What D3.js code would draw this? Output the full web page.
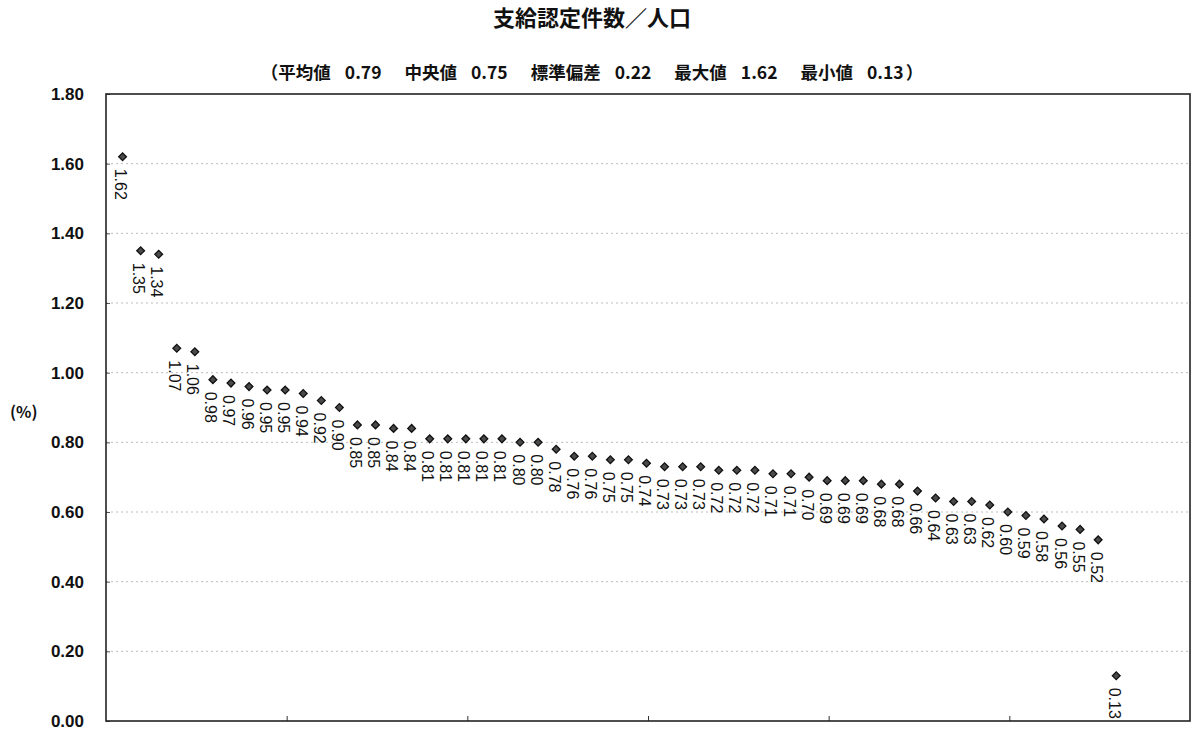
<!DOCTYPE html>
<html>
<head>
<meta charset="utf-8">
<script src="https://cdn.jsdelivr.net/npm/d3@7"></script>
<style>
  html, body { margin: 0; padding: 0; background: #fff; }
  svg { display: block; }
</style>
</head>
<body>
<svg id="chart" width="1193" height="733"></svg>
<script>
// 支給認定件数／人口 (%) — 自治体別、降順
const ratios = [
  1.62, 1.35, 1.34, 1.07, 1.06, 0.98, 0.97, 0.96, 0.95, 0.95,
  0.94, 0.92, 0.90, 0.85, 0.85, 0.84, 0.84, 0.81, 0.81, 0.81,
  0.81, 0.81, 0.80, 0.80, 0.78, 0.76, 0.76, 0.75, 0.75, 0.74,
  0.73, 0.73, 0.73, 0.72, 0.72, 0.72, 0.71, 0.71, 0.70, 0.69,
  0.69, 0.69, 0.68, 0.68, 0.66, 0.64, 0.63, 0.63, 0.62, 0.60,
  0.59, 0.58, 0.56, 0.55, 0.52, 0.13
];
const yTicks = [0, 0.2, 0.4, 0.6, 0.8, 1.0, 1.2, 1.4, 1.6, 1.8];
const xTicks = [10, 20, 30, 40, 50];
const titleText = "支給認定件数／人口";
const statLabels = ["平均値", "中央値", "標準偏差", "最大値", "最小値"];
const statValues = ["0.79", "0.75", "0.22", "1.62", "0.13"];
const unitText = "(%)";

const svg = d3.select("#chart");
const plot = { left: 106, right: 1190, top: 94, bottom: 721 };

const x = d3.scaleLinear().domain([0, 60]).range([plot.left, plot.right]);
const y = d3.scaleLinear().domain([0, 1.8]).range([plot.bottom, plot.top]);

// gridlines
svg.append("g")
  .selectAll("line")
  .data(yTicks.filter(t => t > 0 && t < 1.8))
  .join("line")
  .attr("x1", plot.left).attr("x2", plot.right)
  .attr("y1", d => y(d)).attr("y2", d => y(d))
  .attr("stroke", "#bdbdbd")
  .attr("stroke-width", 1)
  .attr("stroke-dasharray", "2,3");

// y axis
const yAxis = svg.append("g")
  .attr("transform", `translate(${plot.left},0)`)
  .call(d3.axisLeft(y).tickValues(yTicks).tickFormat(d3.format(".2f")).tickSize(-4).tickPadding(22));
yAxis.select(".domain").remove();
yAxis.selectAll(".tick line").attr("stroke", "#555");
yAxis.selectAll(".tick text")
  .attr("font-family", "'Liberation Sans', Arial, sans-serif")
  .attr("font-weight", "bold")
  .attr("font-size", 17)
  .attr("fill", "#111");

// x axis (tick marks only)
const xAxis = svg.append("g")
  .attr("transform", `translate(0,${plot.bottom})`)
  .call(d3.axisBottom(x).tickValues(xTicks).tickSize(-5).tickFormat(""));
xAxis.select(".domain").remove();
xAxis.selectAll(".tick line").attr("stroke", "#333");

// plot frame
svg.append("rect")
  .attr("x", plot.left).attr("y", plot.top)
  .attr("width", plot.right - plot.left)
  .attr("height", plot.bottom - plot.top)
  .attr("fill", "none")
  .attr("stroke", "#222")
  .attr("stroke-width", 1.6);

// markers
const diamond = d3.symbol().type(d3.symbolSquare).size(30);
svg.append("g")
  .selectAll("path")
  .data(ratios)
  .join("path")
  .attr("d", diamond)
  .attr("transform", (d, i) => `translate(${x(i + 1) - 1.5},${y(d)}) rotate(45)`)
  .attr("fill", "#4a4a4a")
  .attr("stroke", "#111")
  .attr("stroke-width", 1.3);

// value labels, rotated to read downward
svg.append("g")
  .selectAll("text")
  .data(ratios)
  .join("text")
  .attr("transform", (d, i) => `translate(${x(i + 1) - 3.5},${y(d)}) rotate(90)`)
  .attr("x", 12)
  .attr("y", 0)
  .attr("dominant-baseline", "central")
  .attr("font-family", "'Liberation Sans', Arial, sans-serif")
  .attr("font-size", 16)
  .attr("fill", "#111")
  .text(d => d.toFixed(2));

// title
svg.append("text")
  .attr("x", 592).attr("y", 26)
  .attr("text-anchor", "middle")
  .attr("font-family", "'Noto Sans CJK JP', sans-serif")
  .attr("font-weight", "bold")
  .attr("font-size", 22)
  .attr("fill", "#111")
  .text(titleText);

// summary statistics line
const stats = svg.append("text")
  .attr("x", 0).attr("y", 79)
  .attr("font-family", "'Noto Sans CJK JP', sans-serif")
  .attr("font-weight", "bold")
  .attr("font-size", 17.5)
  .attr("fill", "#111");
stats.append("tspan").text("（");
statLabels.forEach((lab, i) => {
  stats.append("tspan").attr("dx", i === 0 ? 0 : 23).text(lab);
  stats.append("tspan").attr("dx", 14).text(statValues[i]);
});
stats.append("tspan").attr("dx", 2).text("）");
const sb = stats.node().getBBox();
stats.attr("x", 592 - sb.width / 2);

// unit label
svg.append("text")
  .attr("x", 10).attr("y", 418)
  .attr("font-family", "'Noto Sans CJK JP', sans-serif")
  .attr("font-weight", "bold")
  .attr("font-size", 16)
  .attr("fill", "#111")
  .text(unitText);
</script>
</body>
</html>
